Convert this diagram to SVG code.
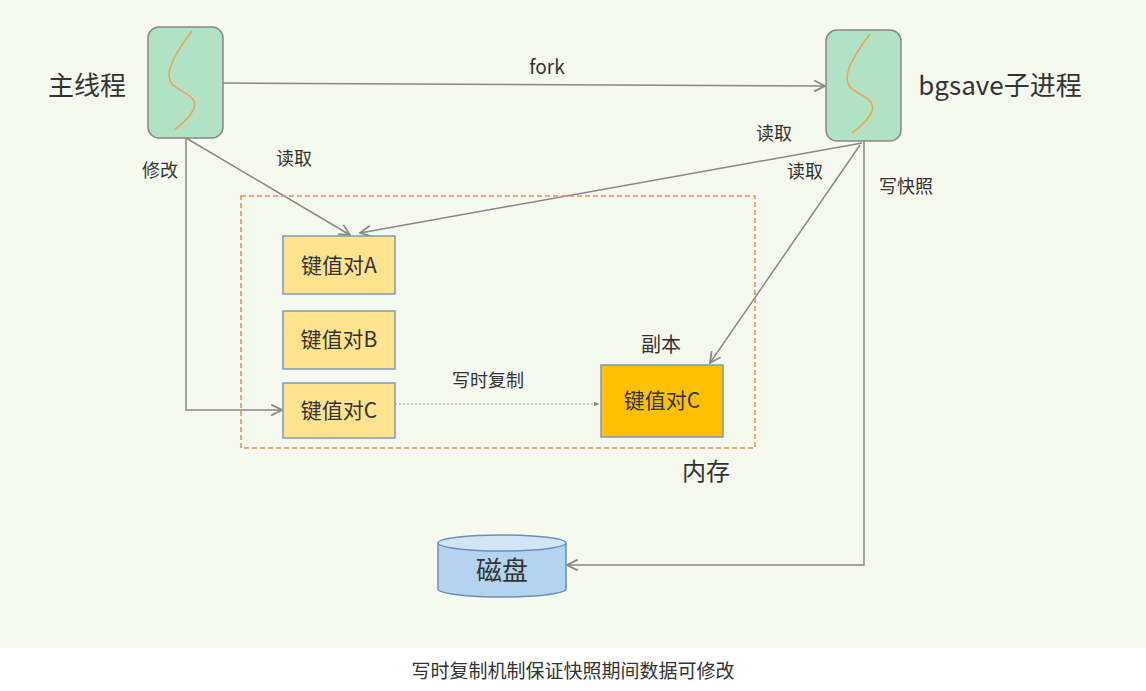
<svg xmlns="http://www.w3.org/2000/svg" width="1146" height="691" viewBox="0 0 1146 691">
<style>
text{font-family:"Noto Sans CJK SC","Liberation Sans",sans-serif;fill:#333}
.kv{fill:#ffe38f;stroke:#7c9bb5;stroke-width:1.5}
.ln{fill:none;stroke:#888;stroke-width:1.5}
.proc{fill:#b2e2c4;stroke:#888;stroke-width:1.5}
.wave{fill:none;stroke:#f0a050;stroke-width:1.5}
</style>
<defs>
<marker id="ar" viewBox="0 0 10 10" refX="9" refY="5" markerWidth="9" markerHeight="9" orient="auto"><path d="M1,1 L9,5 L1,9" fill="none" stroke="#888" stroke-width="1.3"/></marker>
<marker id="tri" viewBox="0 0 10 10" refX="9" refY="5" markerWidth="6" markerHeight="6" orient="auto"><path d="M0,1 L10,5 L0,9z" fill="#888"/></marker>
</defs>
<rect width="1146" height="648" fill="#f6f9ee"/>
<rect y="648" width="1146" height="43" fill="#fff"/>
<text x="573" y="678" font-size="19" text-anchor="middle">写时复制机制保证快照期间数据可修改</text>
<g id="connectors">
<path class="ln" d="M223,83 L825,86" marker-end="url(#ar)"/>
<path class="ln" d="M186,138 L350,235" marker-end="url(#ar)"/>
<path class="ln" d="M862,143 L360,233" marker-end="url(#ar)"/>
<path class="ln" d="M860,145 L710,363" marker-end="url(#ar)"/>
<path class="ln" d="M864,141 L864,565 L567,565" marker-end="url(#ar)"/>
<path class="ln" d="M186,138 L186,410 L282,410" stroke-width="1" marker-end="url(#ar)"/>
<path d="M395,404 L599,404" fill="none" stroke="#999" stroke-width="1" stroke-dasharray="2,2" marker-end="url(#tri)"/>
</g>
<text x="547" y="74" font-size="19" text-anchor="middle">fork</text>
<text x="294" y="165" font-size="18" text-anchor="middle">读取</text>
<text x="160" y="177" font-size="18" text-anchor="middle">修改</text>
<text x="774" y="140" font-size="18" text-anchor="middle">读取</text>
<text x="805" y="178" font-size="18" text-anchor="middle">读取</text>
<text x="906" y="193" font-size="18" text-anchor="middle">写快照</text>
<text x="488" y="387" font-size="18" text-anchor="middle">写时复制</text>
<g id="mem"><rect x="241" y="196" width="514" height="252" fill="none" stroke="#f08a4b" stroke-width="1.5" stroke-dasharray="5,3"/>
<text x="706" y="480" font-size="24" text-anchor="middle">内存</text></g>
<g id="main"><rect class="proc" x="148" y="27" width="75" height="111" rx="11"/>
<path class="wave" d="M192,31 C170,60 165,75 172,84 C180,93 205,96 190,115 C183,124 177,128 174,130"/>
<text x="87" y="95" font-size="26" text-anchor="middle">主线程</text></g>
<g id="bgsave"><rect class="proc" x="826" y="30" width="75" height="111" rx="11"/>
<path class="wave" d="M870,34 C848,63 843,78 850,87 C858,96 883,99 868,118 C861,127 855,131 852,133"/>
<text x="1000" y="95" font-size="26" text-anchor="middle">bgsave子进程</text></g>
<g id="kvA"><rect class="kv" x="283" y="236" width="112" height="58"/><text x="339" y="273" font-size="21" text-anchor="middle">键值对A</text></g>
<g id="kvB"><rect class="kv" x="283" y="311" width="112" height="58"/><text x="339" y="347" font-size="21" text-anchor="middle">键值对B</text></g>
<g id="kvC"><rect class="kv" x="283" y="383" width="112" height="55"/><text x="339" y="418" font-size="21" text-anchor="middle">键值对C</text></g>
<g id="copy"><rect x="601" y="365" width="122" height="72" fill="#ffc000" stroke="#7c9bb5" stroke-width="1.5"/>
<text x="662" y="408" font-size="21" text-anchor="middle">键值对C</text>
<text x="661" y="352" font-size="20" text-anchor="middle">副本</text></g>
<g id="disk"><path d="M438,543 L438,589 A64,8 0 0 0 566,589 L566,543" fill="#b4d3ee" stroke="#6a8fb8" stroke-width="1.5"/>
<ellipse cx="502" cy="543" rx="64" ry="8" fill="#d2e4f5" stroke="#6a8fb8" stroke-width="1.5"/>
<text x="502" y="580" font-size="26" text-anchor="middle">磁盘</text></g>
</svg>
